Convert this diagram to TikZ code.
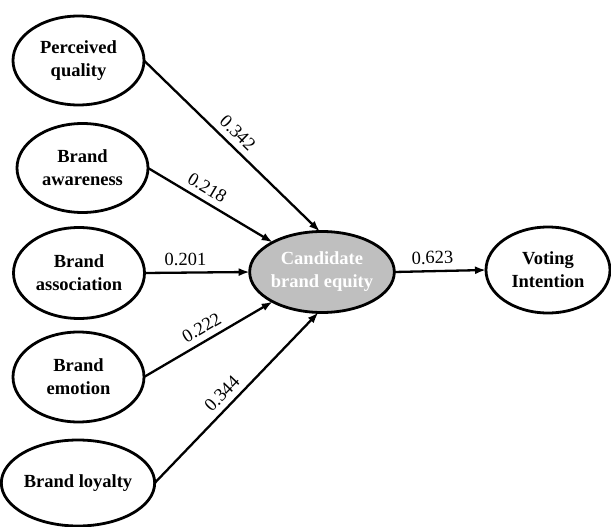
\documentclass[tikz,border=0pt]{standalone}
\usepackage{fontspec}
\setmainfont{Liberation Serif}
\usetikzlibrary{shapes.geometric,arrows.meta}
\definecolor{cbegray}{RGB}{191,191,191}
\tikzset{
  construct/.style={ellipse,draw=black,line width=2.8pt,inner sep=0pt,outer sep=0pt,
    minimum width=131pt,minimum height=89pt,align=center,
    font=\fontsize{18.5}{23}\selectfont\bfseries},
  central/.style={construct,fill=cbegray,text=white,minimum width=135pt,minimum height=81pt},
  path/.style={line width=2.3pt,-{Latex[length=11pt,width=8pt]}},
  coef/.style={font=\fontsize{18.5}{20}\selectfont,sloped,above=5pt,inner sep=1pt}
}
\begin{document}
\begin{tikzpicture}[x=1pt,y=-1pt]
\useasboundingbox (0,0) rectangle (611,527);
\node[construct] (pq) at (78.5,60.5) {Perceived\\quality};
\node[construct] (aw) at (82.5,168) {Brand\\awareness};
\node[construct,minimum height=91pt] (as) at (79,273) {Brand\\association};
\node[construct,minimum height=90pt] (em) at (78.5,377) {Brand\\emotion};
\node[construct,minimum height=86pt] (lo) at (78,483) {Brand loyalty};
\node[central] (cbe) at (322,272) {Candidate\\brand equity};
\node[construct,minimum width=124pt,minimum height=86pt] (vi) at (548,270) {Voting\\Intention};
\draw[path] (pq.east) -- node[coef,pos=0.48] {0.342} (cbe.93);
\draw[path] (aw.east) -- node[coef,pos=0.42] {0.218} (cbe.149);
\draw[path] (as.east) -- node[coef,pos=0.39] {0.201} (cbe.west);
\draw[path] (em.east) -- node[coef,pos=0.50] {0.222} (cbe.211);
\draw[path] (lo.east) -- node[coef,pos=0.47] {0.344} (cbe.265);
\draw[path] (cbe.east) -- node[coef,pos=0.42] {0.623} (vi.west);
\end{tikzpicture}
\end{document}
